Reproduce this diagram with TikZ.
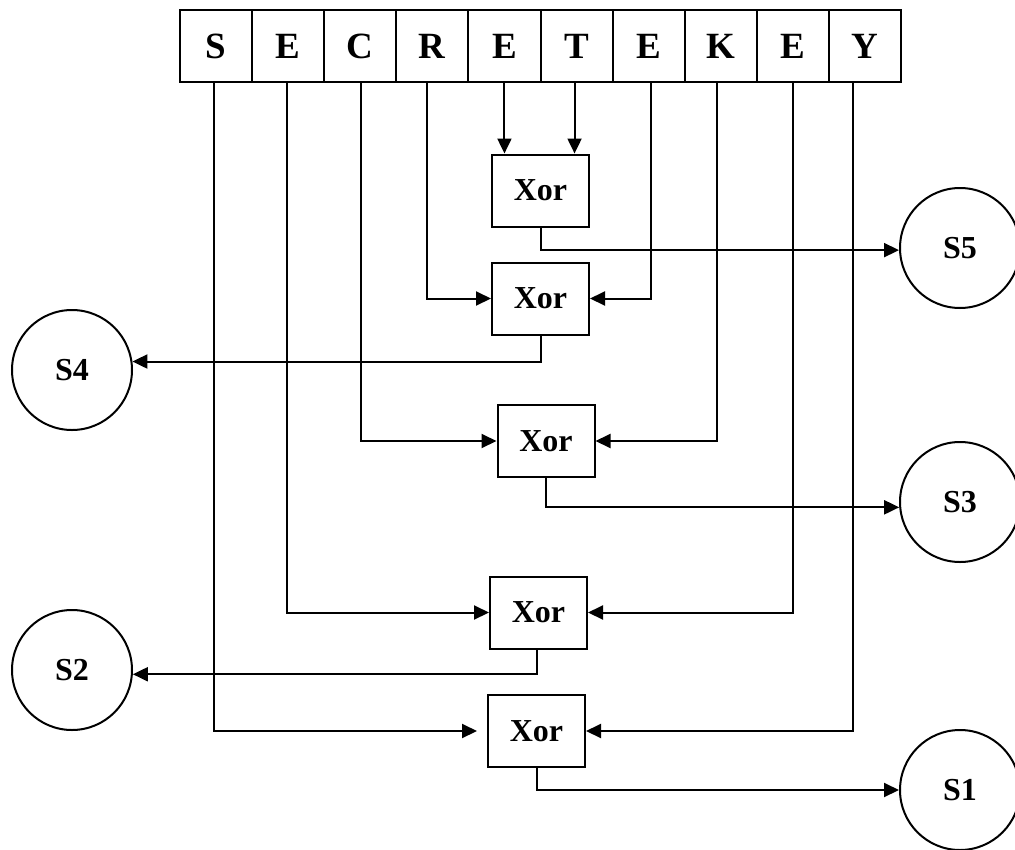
\documentclass[tikz,border=0pt]{standalone}
\usepackage{fontspec}
\setmainfont{Liberation Serif}
\usetikzlibrary{arrows.meta}
\begin{document}
\begin{tikzpicture}[x=1pt,y=-1pt,
  every node/.style={font=\bfseries\fontsize{32}{32}\selectfont},
  letterbox/.style={draw,line width=2pt,minimum width=72.1pt,minimum height=72pt,inner sep=0pt,
    font=\bfseries\fontsize{37}{37}\selectfont},
  xorbox/.style={draw,line width=2pt,minimum width=97pt,minimum height=72pt,inner sep=0pt},
  sbox/.style={draw,circle,line width=2pt,minimum size=120pt,inner sep=0pt},
  conn/.style={line width=2pt,-{Triangle[length=15pt,width=14pt]}}]
\useasboundingbox (0,0) rectangle (1015,849);
\foreach \l [count=\i] in {S,E,C,R,E,T,E,K,E,Y}
  \node[letterbox] (L\i) at ({180+72.1*(\i-0.5)},46) {\l};
\node[xorbox] (X1) at (540.5,190.5) {Xor};
\node[xorbox] (X2) at (540.5,298.5) {Xor};
\node[xorbox] (X3) at (546,441) {Xor};
\node[xorbox] (X4) at (538.5,612.5) {Xor};
\node[xorbox] (X5) at (536.5,731) {Xor};
\node[sbox] (S5) at (960,248) {S5};
\node[sbox] (S4) at (72,370) {S4};
\node[sbox] (S3) at (960,502) {S3};
\node[sbox] (S2) at (72,670) {S2};
\node[sbox] (S1) at (960,790) {S1};
% into Xor 1
\draw[conn] (L5.south) -- (L5.south |- X1.north);
\draw[conn] ([xshift=-2pt]L6.south) -- ([xshift=-2pt]L6.south |- X1.north);
\draw[conn] (X1.south) |- (S5.182);
% Xor 2
\draw[conn] ([xshift=-5.5pt]L4.south) |- (X2.west);
\draw[conn] ([xshift=2pt]L7.south) |- (X2.east);
\draw[conn] (X2.south) |- (S4.8);
% Xor 3
\draw[conn] ([xshift=0.5pt]L3.south) |- (X3.west);
\draw[conn] ([xshift=-4pt]L8.south) |- (X3.east);
\draw[conn] (X3.south) |- (S3.185);
% Xor 4
\draw[conn] ([xshift=-1pt]L2.south) |- (X4.west);
\draw[conn] (L9.south) |- (X4.east);
\draw[conn] ([xshift=-2pt]X4.south) |- (S2.-4);
% Xor 5
\draw[conn] ([xshift=-2pt]L1.south) |- ([xshift=-10pt]X5.west);
\draw[conn] ([xshift=-12pt]L10.south) |- (X5.east);
\draw[conn] (X5.south) |- (S1.west);
\end{tikzpicture}
\end{document}
